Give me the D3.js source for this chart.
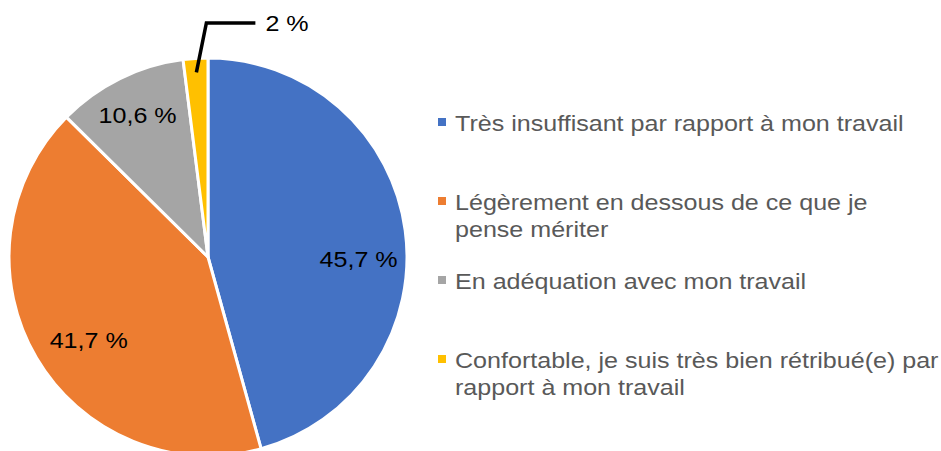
<!DOCTYPE html>
<html>
<head>
<meta charset="utf-8">
<script src="https://cdn.jsdelivr.net/npm/d3@7"></script>
<style>
  body { margin: 0; background: #fff; }
  svg { display: block; font-family: Arial, "Liberation Sans", sans-serif; }
</style>
</head>
<body>
<div id="chart"></div>
<script>
// DATA
var categories = [
    ["Très insuffisant par rapport à mon travail"],
    ["Légèrement en dessous de ce que je", "pense mériter"],
    ["En adéquation avec mon travail"],
    ["Confortable, je suis très bien rétribué(e) par", "rapport à mon travail"]
];
var values = [45.7, 41.7, 10.6, 2];
var labels = ["45,7 %", "41,7 %", "10,6 %", "2 %"];
var colors = ["#4472C4", "#ED7D31", "#A5A5A5", "#FFC000"];

var width = 941,
    height = 451,
    cx = 208,
    cy = 257,
    radius = 199,
    stretch = 1.14;   // the original text is drawn a bit wide

var svg = d3.select("#chart").append("svg")
    .attr("width", width)
    .attr("height", height);

var pie = d3.pie()
    .sort(null)
    .value(function(d) { return d; });

var arc = d3.arc()
    .innerRadius(0)
    .outerRadius(radius);

var labelArc = d3.arc()
    .innerRadius(150)
    .outerRadius(150);

var leaderArc = d3.arc()
    .innerRadius(185)
    .outerRadius(185);

var arcs = pie(values);

var g = svg.append("g")
    .attr("transform", "translate(" + cx + "," + cy + ")");

g.selectAll(".slice")
    .data(arcs)
  .enter().append("path")
    .attr("class", "slice")
    .attr("d", arc)
    .style("fill", function(d, i) { return colors[i]; })
    .style("stroke", "#fff")
    .style("stroke-width", 3)
    .style("stroke-linejoin", "round");

// wide text helper
function wideText(parent, x, y, anchor) {
    return parent.append("g")
        .attr("transform", "translate(" + x + "," + y + ") scale(" + stretch + ",1)")
      .append("text")
        .attr("text-anchor", anchor);
}

// inside labels (small slice goes outside with a leader line)
var nudge = { 0: [2, 22], 1: [10, 7], 2: [-4, -7] };

arcs.forEach(function(d, i) {
    if (values[i] < 5) {
        var p = leaderArc.centroid(d);
        var elbow = [p[0] + 10, -234];
        var end = [elbow[0] + 49, elbow[1]];
        g.append("path")
            .attr("d", d3.line()([p, elbow, end]))
            .style("fill", "none")
            .style("stroke", "#000")
            .style("stroke-width", 3.5);
        wideText(g, end[0] + 10, end[1], "start")
            .attr("dy", "0.36em")
            .style("font-size", "22px")
            .style("fill", "#000")
            .text(labels[i]);
    } else {
        var c = labelArc.centroid(d);
        wideText(g, c[0] + nudge[i][0], c[1] + nudge[i][1], "middle")
            .attr("dy", "0.36em")
            .style("font-size", "22px")
            .style("fill", "#000")
            .text(labels[i]);
    }
});

// LEGEND
var legendY = [131, 210, 289, 368];
var lineH = 27.5;

var legend = svg.append("g")
    .attr("transform", "translate(438,0)");

categories.forEach(function(lines, i) {
    legend.append("rect")
        .attr("x", 0)
        .attr("y", legendY[i] - 13)
        .attr("width", 8)
        .attr("height", 8)
        .style("fill", colors[i]);

    var t = wideText(legend, 17, legendY[i], "start")
        .style("font-size", "22px")
        .style("fill", "#595959");

    lines.forEach(function(line, j) {
        t.append("tspan")
            .attr("x", 0)
            .attr("dy", j === 0 ? 0 : lineH)
            .text(line);
    });
});
</script>
</body>
</html>
